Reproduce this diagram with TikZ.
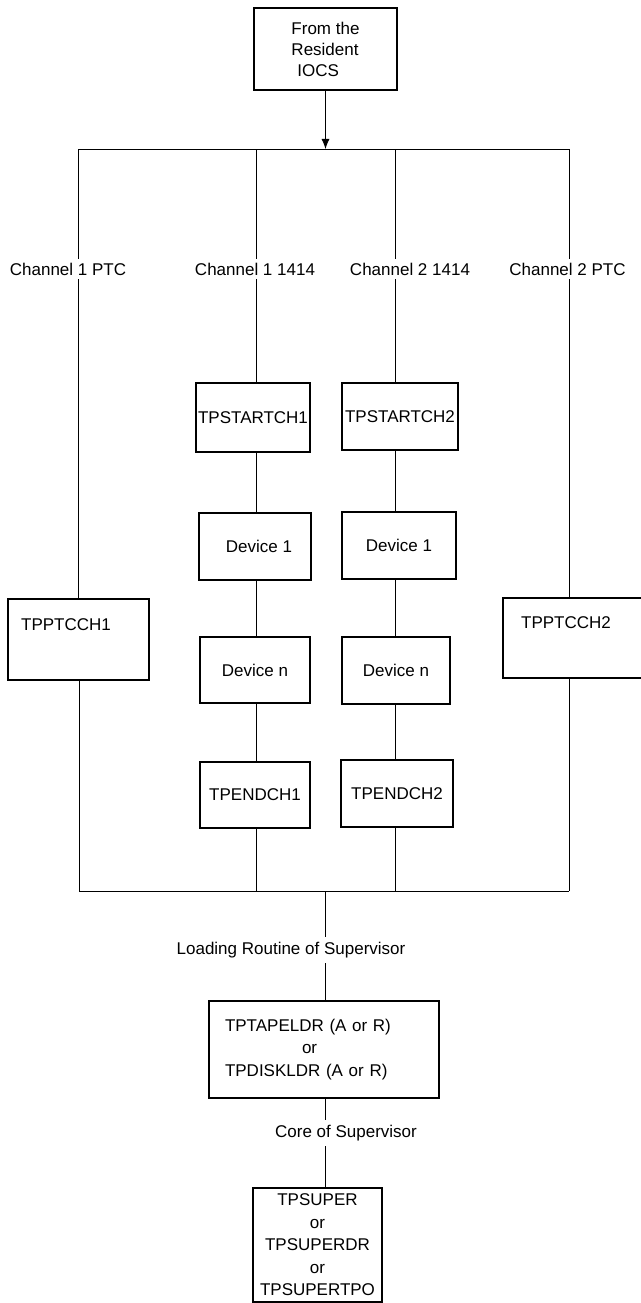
\documentclass[tikz,border=0pt]{standalone}
\usepackage{fontspec}
\setmainfont{Liberation Sans}
\usetikzlibrary{arrows.meta}
\begin{document}
\begin{tikzpicture}[x=1pt,y=-1pt,
  font=\fontsize{17}{21}\selectfont,
  box/.style={draw, line width=1.4pt, inner sep=0pt, align=center},
  conn/.style={line width=0.8pt},
  lab/.style={inner xsep=2pt, inner ysep=4pt},
  txt/.style={inner sep=0pt}]
\fill[white] (0,0) rectangle (640,1303);
\useasboundingbox (0,0) rectangle (640,1303);

% source box
\node[box, minimum width=143pt, minimum height=82pt, align=left] (src) at (325.5,49)
  {From the\\Resident\\\hspace*{6pt}IOCS};

% bus coordinates
\coordinate (b1) at (78,149);
\coordinate (b2) at (256.5,149);
\coordinate (b3) at (395.5,149);
\coordinate (b4) at (569,149);
\coordinate (d1) at (79,891);
\coordinate (d2) at (256.5,891);
\coordinate (d3) at (395.5,891);
\coordinate (d4) at (569,891);
\coordinate (dc) at (325,891);

% channel labels
\node[lab] (l1) at (68,269) {Channel 1 PTC};
\node[lab] (l2) at (255,269) {Channel 1 1414};
\node[lab] (l3) at (410,269) {Channel 2 1414};
\node[lab] (l4) at (567.5,269) {Channel 2 PTC};

% PTC boxes
\node[box, minimum width=141pt, minimum height=81pt] (p1) at (78.5,639.5) {};
\node[txt] (p1t) at (66,625) {TPPTCCH1};
\node[box, minimum width=141pt, minimum height=80pt] (p2) at (573.5,638) {};
\node[txt] (p2t) at (566,623) {TPPTCCH2};

% 1414 chains
\node[box, minimum width=114pt, minimum height=69pt] (s1) at (253,417.5) {TPSTARTCH1};
\node[box, minimum width=116pt, minimum height=67pt] (s2) at (400,416.5) {TPSTARTCH2};
\node[box, minimum width=112pt, minimum height=67pt] (u1) at (255,546.5) {\hspace*{8pt}Device 1};
\node[box, minimum width=114pt, minimum height=67pt] (u2) at (399,545.5) {Device 1};
\node[box, minimum width=110pt, minimum height=66pt] (n1) at (255,670) {Device n};
\node[box, minimum width=108pt, minimum height=67pt] (n2) at (396,670.5) {Device n};
\node[box, minimum width=110pt, minimum height=66pt] (e1) at (255,795) {TPENDCH1};
\node[box, minimum width=112pt, minimum height=67pt] (e2) at (397,793.5) {TPENDCH2};

% lower part
\node[lab, inner ysep=5pt] (ll) at (291,950) {Loading Routine of Supervisor};
\node[box, minimum height=97pt, text width=198pt, inner xsep=16pt, align=left,
  font=\fontsize{17}{22.5}\selectfont] (ldr) at (324,1049.5)
  {TPTAPELDR (A or R)\\\hspace*{77pt}or\\TPDISKLDR (A or R)};
\node[lab, inner ysep=5pt] (cl) at (346,1133) {Core of Supervisor};
\node[box, minimum width=129pt, minimum height=114pt,
  font=\fontsize{17}{22.5}\selectfont] (sup) at (317.5,1245)
  {TPSUPER\\or\\TPSUPERDR\\or\\TPSUPERTPO};

% connectors
\draw[conn, -{Latex[length=10pt,width=8pt]}] (src.south) -- (src.south |- b1);
\draw[conn] (b1) -- (b4);
\draw[conn] (d1) -- (d4);

\draw[conn] (b1) -- (l1.north -| b1);
\draw[conn] (l1.south -| b1) -- (p1.north -| b1);
\draw[conn] (p1.south -| d1) -- (d1);

\draw[conn] (b2) -- (l2.north -| b2);
\draw[conn] (l2.south -| b2) -- (s1.north -| b2);
\draw[conn] (s1.south -| b2) -- (u1.north -| b2);
\draw[conn] (u1.south -| b2) -- (n1.north -| b2);
\draw[conn] (n1.south -| b2) -- (e1.north -| b2);
\draw[conn] (e1.south -| d2) -- (d2);

\draw[conn] (b3) -- (l3.north -| b3);
\draw[conn] (l3.south -| b3) -- (s2.north -| b3);
\draw[conn] (s2.south -| b3) -- (u2.north -| b3);
\draw[conn] (u2.south -| b3) -- (n2.north -| b3);
\draw[conn] (n2.south -| b3) -- (e2.north -| b3);
\draw[conn] (e2.south -| d3) -- (d3);

\draw[conn] (b4) -- (l4.north -| b4);
\draw[conn] (l4.south -| b4) -- (p2.north -| b4);
\draw[conn] (p2.south -| d4) -- (d4);

\draw[conn] (dc) -- (ll.north -| dc);
\draw[conn] (ll.south -| dc) -- (ldr.north -| dc);
\draw[conn] (ldr.south -| dc) -- (cl.north -| dc);
\draw[conn] (cl.south -| dc) -- (sup.north -| dc);
\end{tikzpicture}
\end{document}
